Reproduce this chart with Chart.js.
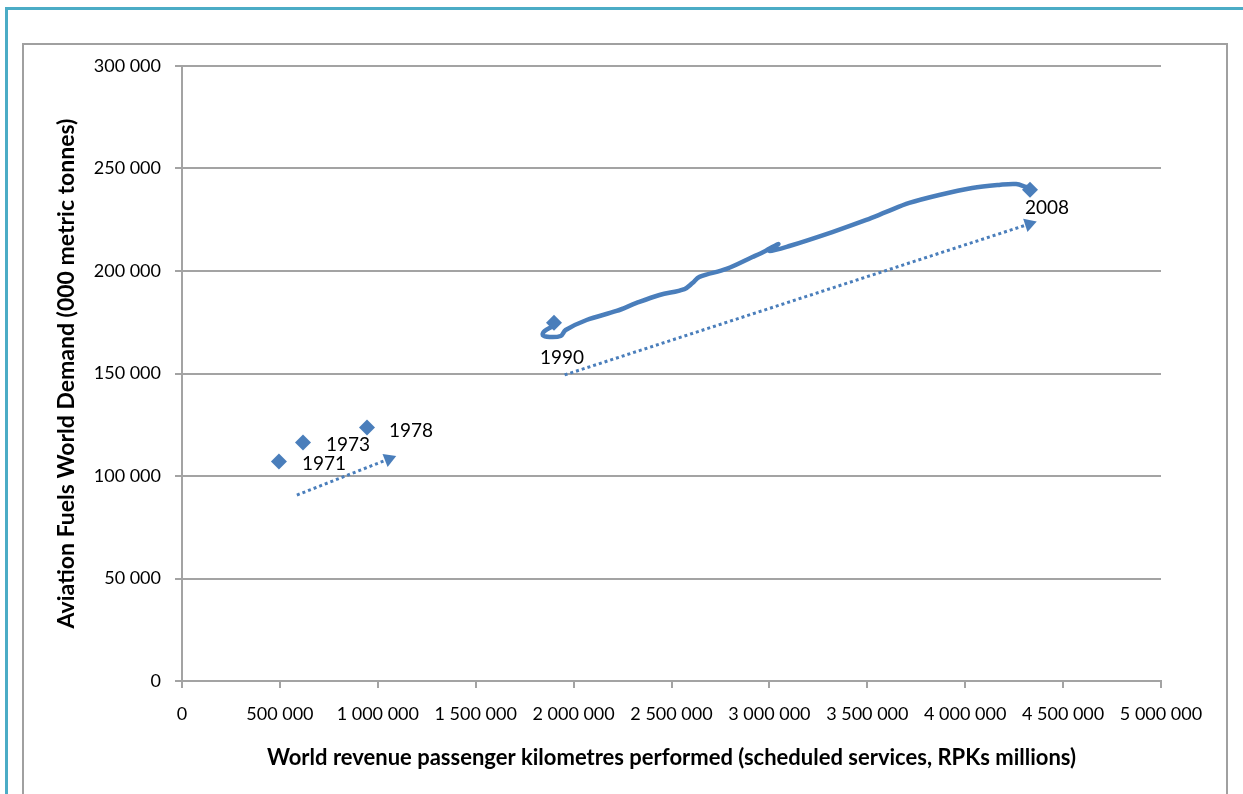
<!DOCTYPE html>
<html><head><meta charset="utf-8">
<script src="https://cdn.jsdelivr.net/npm/chart.js@4.4.1/dist/chart.umd.min.js"></script>
<style>
html,body{margin:0;padding:0;background:#fff;overflow:hidden;width:1243px;height:794px;}
#teal{position:absolute;left:5px;top:7px;width:1300px;height:900px;border:3px solid #4bacc6;box-sizing:border-box;}
#frame{position:absolute;left:22px;top:43px;width:1206px;height:900px;border:2px solid #a0a0a0;box-sizing:border-box;}
#c{position:absolute;left:0;top:0;}
</style></head><body>
<div id="teal"></div><div id="frame"></div>
<canvas id="c" width="1243" height="794"></canvas>
<script>
// ---- data ----
const years = ['1971', '1973', '1978', '1990', '2008'];
const rpk   = [495000, 618000, 945000, 1900000, 4331000];
const fuel  = [107100, 116400, 123700, 174800, 239600];

// hand-drawn path from 1990 to 2008
const pathRpk  = [1897900, 1852000, 1841800, 1877500, 1933700, 1959200, 2066300, 2219400, 2321400, 2438800,
                  2566300, 2607100, 2642800, 2780600, 2913200, 2979600, 3045900, 3000000, 3102000, 3321400,
                  3494900, 3596900, 3714300, 3867300, 4035700, 4173400, 4260200, 4311200];
const pathFuel = [173200, 170700, 168800, 167800, 168300, 171200, 176100, 180500, 184400, 188300,
                  191200, 194100, 197100, 201000, 206800, 209800, 213200, 209800, 212200, 219000,
                  224900, 228800, 233200, 237100, 240500, 242000, 242400, 241000];

// dotted trend arrows
const arrow1Rpk  = [586700, 1056100];
const arrow1Fuel = [90700, 108300];
const arrow2Rpk  = [1954100, 4326500];
const arrow2Fuel = [149300, 222900];

// axis ticks
const xTicks = [0, 500000, 1000000, 1500000, 2000000, 2500000, 3000000, 3500000, 4000000, 4500000, 5000000];
const yTicks = [0, 50000, 100000, 150000, 200000, 250000, 300000];

const xTitle = 'World revenue passenger kilometres performed (scheduled services, RPKs millions)';
const yTitle = 'Aviation Fuels World Demand (000 metric tonnes)';

// ---- styling / chart ----
const BLUE = '#4a7ebb';
const GRID = '#a3a3a3';
const FONT = 'Lato, "Open Sans", sans-serif';
const pts = (xs, ys) => xs.map((x, i) => ({x: x, y: ys[i]}));
const fmt = v => Math.round(v).toString().replace(/\B(?=(\d{3})+(?!\d))/g, ' ');

function arrowRotation(ctx) {
  const ch = ctx.chart, d = ctx.dataset.data;
  if (!ch.scales.x || d.length < 2) return 0;
  const xs = ch.scales.x, ys = ch.scales.y;
  const dx = xs.getPixelForValue(d[1].x) - xs.getPixelForValue(d[0].x);
  const dy = ys.getPixelForValue(d[1].y) - ys.getPixelForValue(d[0].y);
  return Math.atan2(dy, dx) * 180 / Math.PI + 90;
}

const labelOffsets = [[45, 2], [45, 2], [44, 3], [8, 35], [17, 18]];
const yearLabels = {
  id: 'yearLabels',
  afterDatasetsDraw(chart) {
    const meta = chart.getDatasetMeta(3);
    const c = chart.ctx;
    c.save();
    c.font = '19px ' + FONT;
    c.fillStyle = '#000';
    c.textAlign = 'center';
    c.textBaseline = 'middle';
    meta.data.forEach((el, i) => {
      const o = labelOffsets[i];
      c.fillText(years[i], el.x + o[0], el.y + o[1]);
    });
    c.restore();
  }
};

function arrowDataset(xs, ys) {
  return {
    data: pts(xs, ys), showLine: true, borderColor: BLUE, backgroundColor: BLUE,
    borderWidth: 3, borderDash: [3, 3], tension: 0,
    pointRadius: [0, 8], pointStyle: 'triangle', pointBorderWidth: 0,
    pointRotation: arrowRotation, order: 2
  };
}

new Chart(document.getElementById('c'), {
  type: 'scatter',
  data: {
    datasets: [
      { data: pts(pathRpk, pathFuel), showLine: true, borderColor: BLUE, borderWidth: 4.5,
        pointRadius: 0, tension: 0.35, borderCapStyle: 'round', borderJoinStyle: 'round', order: 3 },
      arrowDataset(arrow1Rpk, arrow1Fuel),
      arrowDataset(arrow2Rpk, arrow2Fuel),
      { data: pts(rpk, fuel), showLine: false, pointStyle: 'rectRot', pointRadius: 8,
        backgroundColor: BLUE, borderColor: BLUE, borderWidth: 0, order: 0 }
    ]
  },
  options: {
    responsive: false, animation: false, devicePixelRatio: 1,
    layout: { padding: { left: 46, right: 82, top: 66, bottom: 20 } },
    plugins: { legend: { display: false }, tooltip: { enabled: false } },
    scales: {
      x: {
        type: 'linear', min: xTicks[0], max: xTicks[xTicks.length - 1],
        afterFit: s => { s.height = 93; },
        afterBuildTicks: s => { s.ticks = xTicks.map(v => ({value: v})); },
        ticks: { callback: v => fmt(v), color: '#000', padding: 15, maxRotation: 0, autoSkip: false,
                 font: { family: FONT, size: 18 } },
        grid: { drawOnChartArea: false, drawTicks: true, tickLength: 7, color: GRID, lineWidth: 2 },
        border: { display: true, color: GRID, width: 2 },
        title: { display: true, text: xTitle, color: '#000', padding: { top: 0, bottom: 3 },
                 font: { family: FONT, size: 22, weight: 'bold' } }
      },
      y: {
        type: 'linear', min: yTicks[0], max: yTicks[yTicks.length - 1],
        afterFit: s => { s.width = 136; },
        afterBuildTicks: s => { s.ticks = yTicks.map(v => ({value: v})); },
        ticks: { callback: v => fmt(v), color: '#000', padding: 14, font: { family: FONT, size: 18 } },
        grid: { color: GRID, lineWidth: 2, tickLength: 7 },
        border: { display: true, color: GRID, width: 2 },
        title: { display: true, text: yTitle, color: '#000', padding: { top: 7, bottom: 0 },
                 font: { family: FONT, size: 23, weight: 'bold' } }
      }
    }
  },
  plugins: [yearLabels]
});
</script>
</body></html>
